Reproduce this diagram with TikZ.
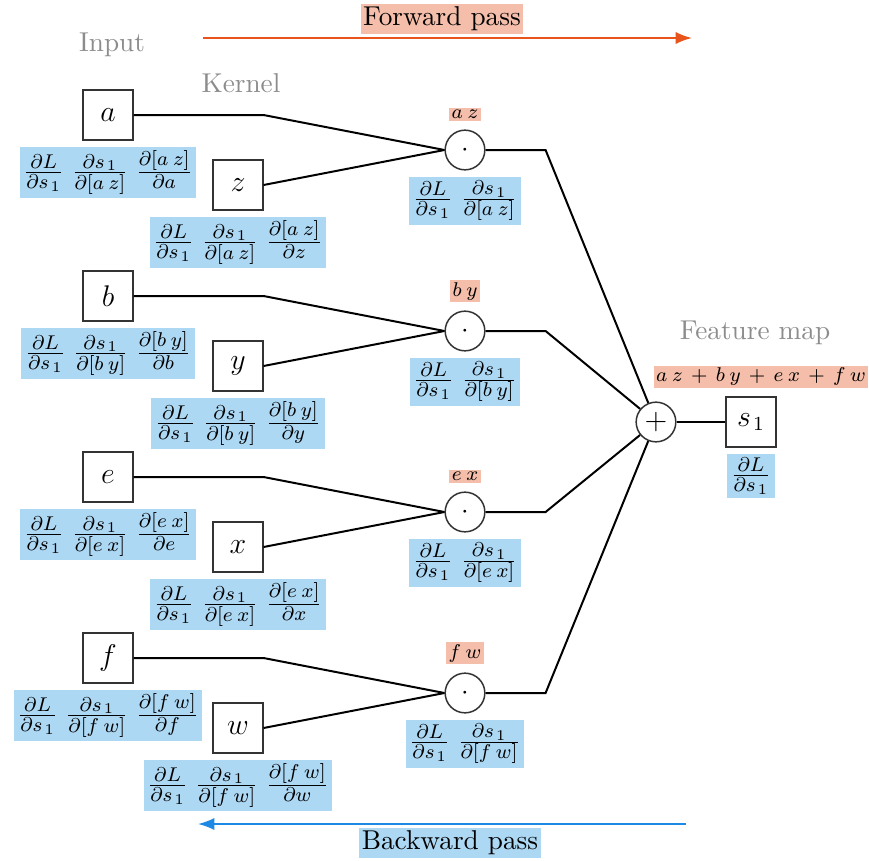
\documentclass[11pt,tikz,border=0pt]{standalone}
\usepackage{amsmath}
\usetikzlibrary{positioning,arrows.meta}
\definecolor{gradblue}{RGB}{173,216,244}
\definecolor{fwdorange}{RGB}{244,190,170}
\definecolor{fwdline}{RGB}{232,84,28}
\definecolor{bwdline}{RGB}{30,136,229}
\definecolor{captiongray}{RGB}{140,140,140}
\newcommand{\lsp}{\mkern4mu}
\newcommand{\sone}{s_{\mkern2mu 1}}
\newcommand{\wplus}{\mkern3mu+\mkern3mu}
\tikzset{
  >={Latex},
  varbox/.style={
    rectangle,
    draw=black!80, semithick,
    minimum size=0.7cm,
    inner sep=0pt,
    font=\large
  },
  opnode/.style={circle, draw=black!80, semithick, minimum size=0.56cm, inner sep=0pt},
  grad/.style={fill=gradblue, inner sep=1.5pt},
  fwd/.style={fill=fwdorange, inner sep=1pt},
  caption/.style={text=captiongray},
  link/.style={draw, thick},
  passarrow/.style={->, thick},
}
\begin{document}
\begin{tikzpicture}[x=0.01411cm, y=-0.01411cm]
  \useasboundingbox (0,0) rectangle (869,860);
  % captions
  \node[caption] (inputlbl) at (112,45) {Input};
  \node[caption] (kernellbl) at (241,83) {Kernel};
  \node[caption] (maplbl) at (755,333) {Feature map};
  % one row per product
  \foreach \i/\u/\k/\r in {1/a/z/115, 2/b/y/296, 3/e/x/477, 4/f/w/658}{
    \node[varbox] (in\i) at (108,\r) {$\u$};
    \node[varbox] (ker\i) at (238,\r+70) {$\k$};
    \node[opnode] (mul\i) at (465,\r+35) {$\cdot$};
    \node[fwd, above=3pt of mul\i] (prod\i) {\scriptsize$\u\lsp\k$};
    \node[grad, below=2.5pt of in\i] (gin\i)
      {$\frac{\partial L}{\partial \sone}\;\frac{\partial \sone}{\partial[\u\lsp\k]}\;\frac{\partial[\u\lsp\k]}{\partial \u}$};
    \node[grad, below=2.5pt of ker\i] (gker\i)
      {$\frac{\partial L}{\partial \sone}\;\frac{\partial \sone}{\partial[\u\lsp\k]}\;\frac{\partial[\u\lsp\k]}{\partial \k}$};
    \node[grad, below=2.5pt of mul\i] (gmul\i)
      {$\frac{\partial L}{\partial \sone}\;\frac{\partial \sone}{\partial[\u\lsp\k]}$};
  }
  % sum and output
  \node[opnode, font=\large] (sum) at (656,422) {$+$};
  \node[varbox] (out) at (751,422) {$\sone$};
  \node[fwd] (total) at (761,377)
    {\scriptsize$a\lsp z\wplus b\lsp y\wplus e\lsp x\wplus f\lsp w$};
  \node[grad, below=2.5pt of out] (gout) {$\frac{\partial L}{\partial \sone}$};
  \foreach \i in {1,...,4}{
    \draw[link] (in\i.east) -- (in\i.east -| ker\i.east) -- (mul\i.west);
    \draw[link] (ker\i.east) -- (mul\i.west);
    \draw[link] (mul\i.east) -- ++(60,0) -- (sum);
  }
  \draw[link] (sum) -- (out);
  % passes
  \coordinate (fwdstart) at (203,38);
  \coordinate (fwdend) at (692,38);
  \coordinate (bwdstart) at (686,824);
  \coordinate (bwdend) at (198,824);
  \draw[passarrow, fwdline] (fwdstart) -- (fwdend);
  \draw[passarrow, bwdline] (bwdstart) -- (bwdend);
  \node[fwd] (fwdlbl) at (442,19) {Forward pass};
  \node[grad, inner sep=1pt] (bwdlbl) at (450,843) {Backward pass};
\end{tikzpicture}
\end{document}
